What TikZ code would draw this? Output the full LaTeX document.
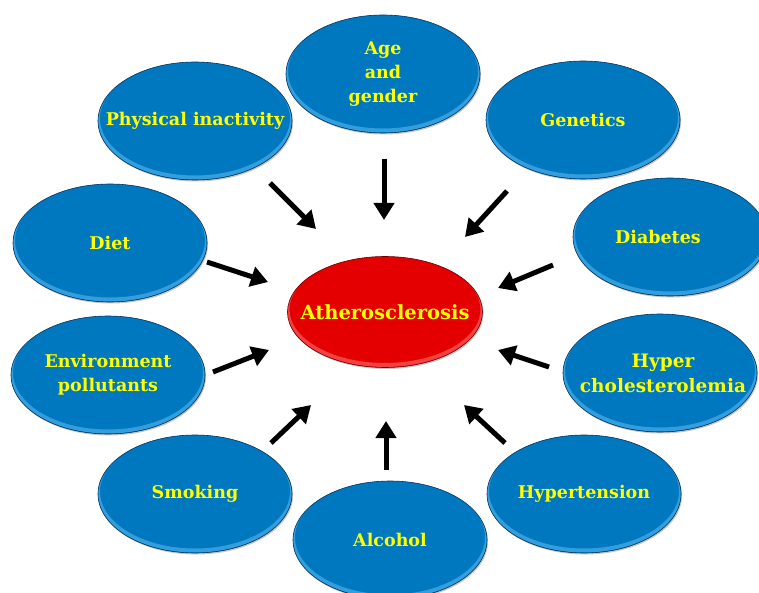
\documentclass[tikz,border=0pt]{standalone}
\usepackage{fontspec}
\setmainfont{DejaVu Serif}
\usetikzlibrary{shapes.geometric,arrows.meta,shadows}
\definecolor{fblue}{RGB}{0,120,192}
\definecolor{fbluerim}{RGB}{95,190,245}
\definecolor{fedge}{RGB}{0,50,95}
\definecolor{ared}{RGB}{228,0,0}
\definecolor{aredrim}{RGB}{255,120,120}
\definecolor{aedge}{RGB}{110,0,0}
\definecolor{ftext}{RGB}{255,255,0}
\begin{document}
\begin{tikzpicture}[x=1pt,y=-1pt,
  factor/.style={ellipse, minimum width=194pt, minimum height=118pt, inner sep=0pt,
    fill=fblue, draw=fedge, line width=0.6pt,
    drop shadow={shadow xshift=1pt, shadow yshift=-1.5pt, opacity=0.45},
    path picture={\draw[fbluerim, line width=4pt, opacity=0.55]
      ([yshift=2.5pt]path picture bounding box.center) ellipse [x radius=97pt, y radius=59pt];}},
  centre/.style={ellipse, minimum width=195pt, minimum height=111pt, inner sep=0pt,
    fill=ared, draw=aedge, line width=0.6pt,
    drop shadow={shadow xshift=1pt, shadow yshift=-1.5pt, opacity=0.45},
    path picture={\draw[aredrim, line width=4pt, opacity=0.55]
      ([yshift=2.5pt]path picture bounding box.center) ellipse [x radius=97.5pt, y radius=55.5pt];}},
  ftxt/.style={font=\bfseries\fontsize{17.5}{24}\selectfont, text=ftext, align=center, inner sep=0pt},
  arrow/.style={line width=5pt, -{Triangle[length=17pt,width=20pt]}}]
\useasboundingbox (0,0) rectangle (759,593);
\fill[white] (0,0) rectangle (759,593);
\clip (0,0) rectangle (759,593);

\node[factor, label={[ftxt]center:{Age\\and\\gender}}] (age) at (383,74) {};
\node[factor, label={[ftxt]center:Physical inactivity}] (pi) at (195,121) {};
\node[factor, label={[ftxt]center:Genetics}] (gen) at (583,120) {};
\node[factor, label={[ftxt]center:Diet}] (diet) at (110,243) {};
\node[factor, label={[ftxt, xshift=-12pt]center:Diabetes}] (diab) at (670,237) {};
\node[factor, label={[ftxt]center:{Environment\\pollutants}}] (env) at (108,375) {};
\node[factor, label={[ftxt, xshift=3pt, font=\bfseries\fontsize{18.5}{25}\selectfont]center:{Hyper\\cholesterolemia}}] (hc) at (660,373) {};
\node[factor, label={[ftxt]center:Smoking}] (smk) at (195,494) {};
\node[factor, label={[ftxt]center:Hypertension}] (hyt) at (584,494) {};
\node[factor, label={[ftxt]center:Alcohol}] (alc) at (390,540) {};
\node[centre, label={[ftxt, font=\bfseries\fontsize{19.5}{24}\selectfont]center:Atherosclerosis}] (ath) at (385,312) {};

\coordinate (pi-s) at (270,183);  \coordinate (pi-e) at (316,229);
\coordinate (age-s) at (384,159); \coordinate (age-e) at (384,220);
\coordinate (gen-s) at (507,191); \coordinate (gen-e) at (465,237);
\coordinate (diet-s) at (207,262); \coordinate (diet-e) at (268,282);
\coordinate (diab-s) at (553,265); \coordinate (diab-e) at (498,288);
\coordinate (env-s) at (213,372); \coordinate (env-e) at (269,350);
\coordinate (hc-s) at (549,367); \coordinate (hc-e) at (498,350);
\coordinate (smk-s) at (271,443); \coordinate (smk-e) at (311,405);
\coordinate (hyt-s) at (505,443); \coordinate (hyt-e) at (464,405);
\coordinate (alc-s) at (386,470); \coordinate (alc-e) at (386,421);

\foreach \n in {pi,age,gen,diet,diab,env,hc,smk,hyt,alc}
  \draw[arrow] (\n-s) -- (\n-e);
\end{tikzpicture}
\end{document}
